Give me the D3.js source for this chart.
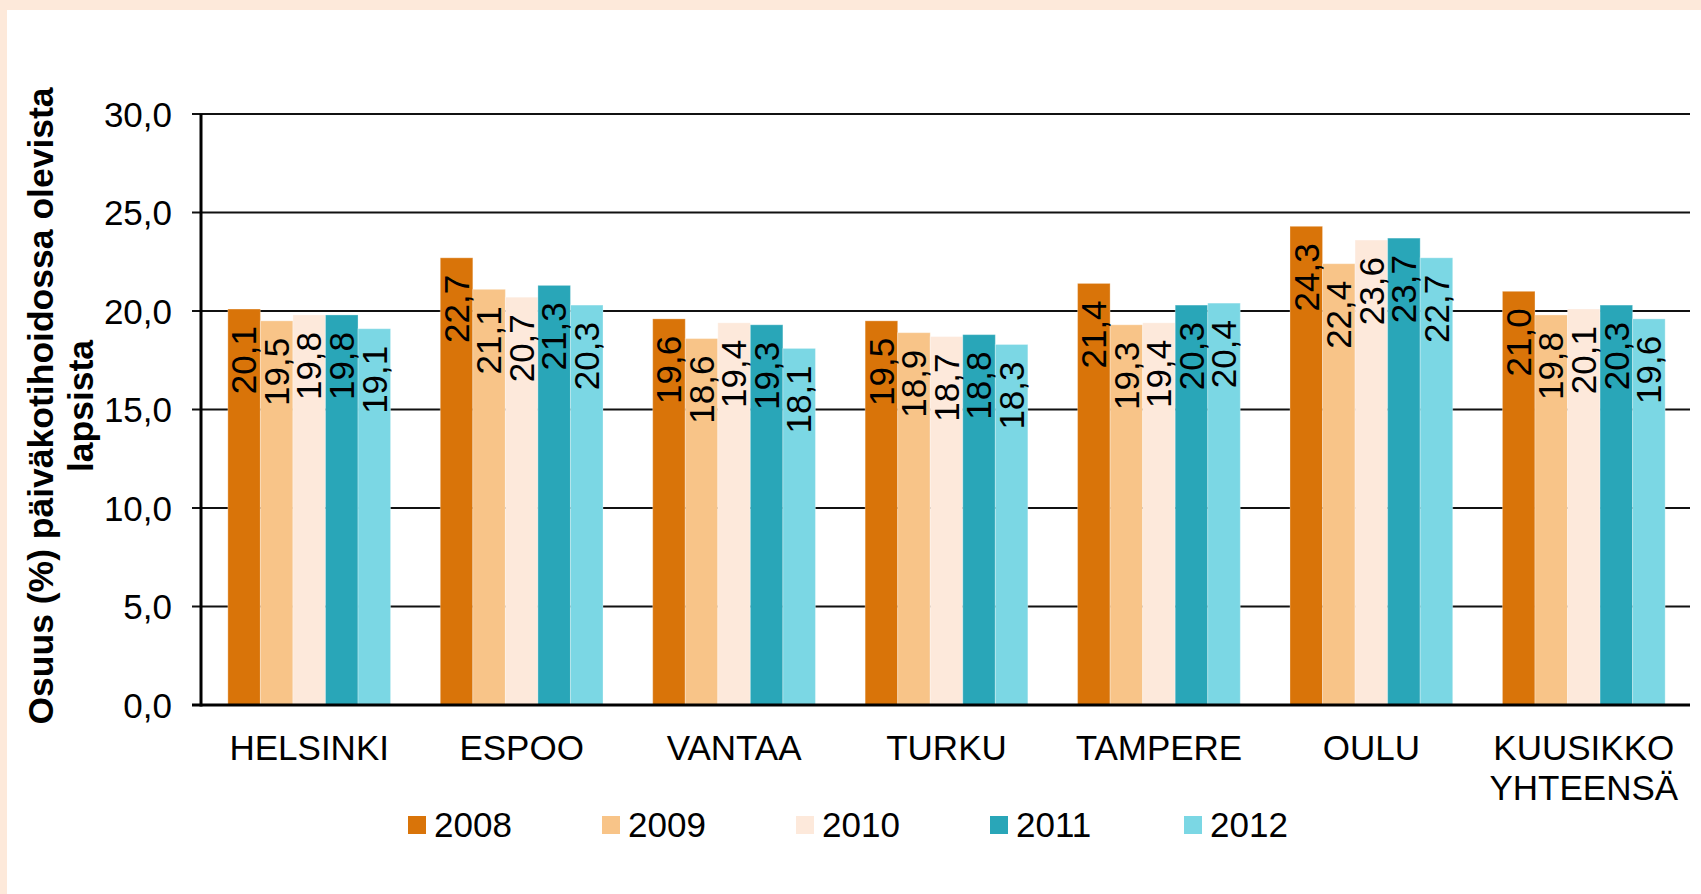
<!DOCTYPE html>
<meta charset="utf-8">
<style>
  body { margin: 0; background: #fff; }
  svg { display: block; font-family: "Liberation Sans", Arial, sans-serif; }
</style>
<script src="https://d3js.org/d3.v7.min.js"></script>
<body>
<script>

// chart data
var cities = ["HELSINKI", "ESPOO", "VANTAA", "TURKU", "TAMPERE", "OULU", "KUUSIKKO YHTEENSÄ"];
var years = ["2008", "2009", "2010", "2011", "2012"];
var v2008 = [20.1, 22.7, 19.6, 19.5, 21.4, 24.3, 21.0];
var v2009 = [19.5, 21.1, 18.6, 18.9, 19.3, 22.4, 19.8];
var v2010 = [19.8, 20.7, 19.4, 18.7, 19.4, 23.6, 20.1];
var v2011 = [19.8, 21.3, 19.3, 18.8, 20.3, 23.7, 20.3];
var v2012 = [19.1, 20.3, 18.1, 18.3, 20.4, 22.7, 19.6];
var yTicks = [0, 5, 10, 15, 20, 25, 30];
var colors = ["#d97409", "#f8c488", "#fde9db", "#29a6b8", "#7bd7e4"];

var series = [v2008, v2009, v2010, v2011, v2012];

var W = 1701, H = 894;
var plotL = 201, plotR = 1690, plotT = 114, plotB = 705;
var fs = 35;

var svg = d3.select("body").append("svg")
    .attr("width", W)
    .attr("height", H);

// peach frame
svg.append("rect").attr("width", W).attr("height", H).attr("fill", "#fde9da");
svg.append("rect").attr("x", 7).attr("y", 10).attr("width", W - 7).attr("height", H - 10).attr("fill", "#fff");

var x0 = d3.scaleBand()
    .domain(cities)
    .range([plotL + 2, plotR])
    .paddingInner(0.234)
    .paddingOuter(0.117);

var x1 = d3.scaleBand()
    .domain(years)
    .range([0, x0.bandwidth()]);

var y = d3.scaleLinear()
    .domain([0, 30])
    .range([plotB, plotT]);

// gridlines + ticks
svg.selectAll(".grid")
    .data(yTicks.filter(function(d) { return d > 0; }))
    .enter().append("line")
    .attr("x1", plotL - 9)
    .attr("x2", plotR)
    .attr("y1", function(d) { return y(d); })
    .attr("y2", function(d) { return y(d); })
    .attr("stroke", "#111")
    .attr("stroke-width", 2);

svg.selectAll(".ylab")
    .data(yTicks)
    .enter().append("text")
    .attr("x", plotL - 29)
    .attr("y", function(d) { return y(d); })
    .attr("dy", "0.36em")
    .attr("text-anchor", "end")
    .attr("font-size", fs)
    .attr("fill", "#000")
    .text(function(d) { return d.toFixed(1).replace(".", ","); });

// bars
var rows = [];
cities.forEach(function(c, i) {
  years.forEach(function(yr, j) {
    rows.push({ city: c, year: yr, value: series[j][i], color: colors[j] });
  });
});

svg.selectAll(".bar")
    .data(rows)
    .enter().append("rect")
    .attr("x", function(d) { return x0(d.city) + x1(d.year); })
    .attr("y", function(d) { return y(d.value); })
    .attr("width", x1.bandwidth())
    .attr("height", function(d) { return plotB - y(d.value); })
    .attr("fill", function(d) { return d.color; })
    .attr("stroke", "#fff")
    .attr("stroke-opacity", 0.3)
    .attr("stroke-width", 1);

// value labels, rotated, inside the bar top
svg.selectAll(".val")
    .data(rows)
    .enter().append("text")
    .attr("transform", function(d) {
      var cx = x0(d.city) + x1(d.year) + x1.bandwidth() / 2;
      return "translate(" + cx + "," + (y(d.value) + 17) + ") rotate(-90)";
    })
    .attr("dy", "0.35em")
    .attr("text-anchor", "end")
    .attr("font-size", fs)
    .attr("fill", "#000")
    .text(function(d) { return d.value.toFixed(1).replace(".", ","); });

// axes lines
svg.append("line")
    .attr("x1", plotL).attr("x2", plotL)
    .attr("y1", plotT).attr("y2", plotB + 1.5)
    .attr("stroke", "#000").attr("stroke-width", 3);
svg.append("line")
    .attr("x1", plotL - 9).attr("x2", plotR)
    .attr("y1", plotB).attr("y2", plotB)
    .attr("stroke", "#000").attr("stroke-width", 3);

// category labels
var xl = svg.selectAll(".xlab")
    .data(cities)
    .enter().append("text")
    .attr("x", function(d) { return x0(d) + x0.bandwidth() / 2; })
    .attr("y", 760)
    .attr("text-anchor", "middle")
    .attr("font-size", fs)
    .attr("fill", "#000");

xl.selectAll("tspan")
    .data(function(d) { return d.split(" "); })
    .enter().append("tspan")
    .attr("x", function() { return d3.select(this.parentNode).attr("x"); })
    .attr("dy", function(d, i) { return i ? 40 : 0; })
    .text(function(d) { return d; });

// y title
var yt = svg.append("text")
    .attr("transform", "translate(53,406) rotate(-90)")
    .attr("text-anchor", "middle")
    .attr("font-size", 35.5)
    .attr("font-weight", "bold")
    .attr("fill", "#000");
yt.append("tspan").attr("x", 0).attr("dy", 0).text("Osuus (%) päiväkotihoidossa olevista");
yt.append("tspan").attr("x", 0).attr("dy", 40).text("lapsista");

// legend
var lg = svg.selectAll(".leg")
    .data(years)
    .enter().append("g")
    .attr("transform", function(d, i) { return "translate(" + (408 + i * 194) + ",816)"; });

lg.append("rect")
    .attr("width", 18)
    .attr("height", 18)
    .attr("fill", function(d, i) { return colors[i]; });

lg.append("text")
    .attr("x", 26)
    .attr("y", 21)
    .attr("font-size", fs)
    .attr("fill", "#000")
    .text(function(d) { return d; });

</script>
</body>
